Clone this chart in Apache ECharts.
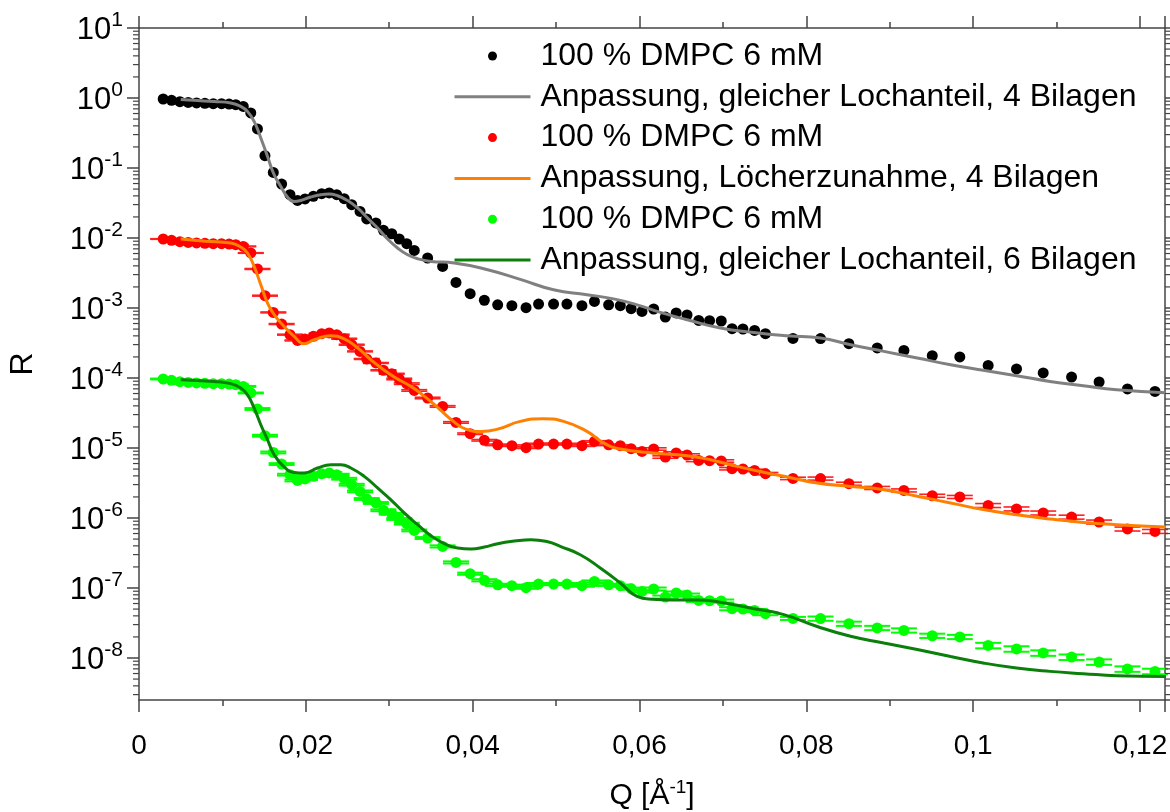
<!DOCTYPE html>
<html><head><meta charset="utf-8">
<script src="https://cdn.jsdelivr.net/npm/echarts@6/dist/echarts.min.js"></script>
<style>html,body{margin:0;padding:0;background:#fff}#c{width:1170px;height:812px}</style>
</head><body><div id="c"></div>
<script>
// Measured Q values [1/Å]
const q = [0.0029, 0.0039, 0.0049, 0.0059, 0.0069, 0.0079, 0.0089, 0.0099, 0.0108, 0.0116, 0.0125, 0.0134, 0.0142, 0.0151, 0.0161, 0.0171, 0.0181, 0.0190, 0.0199, 0.0209, 0.0219, 0.0228, 0.0237, 0.0246, 0.0255, 0.0265, 0.0273, 0.0284, 0.0293, 0.0303, 0.0312, 0.0321, 0.0330, 0.0346, 0.0364, 0.0380, 0.0397, 0.0414, 0.0430, 0.0447, 0.0464, 0.0479, 0.0497, 0.0513, 0.0531, 0.0546, 0.0563, 0.0577, 0.0590, 0.0603, 0.0617, 0.0631, 0.0644, 0.0657, 0.0671, 0.0684, 0.0698, 0.0711, 0.0724, 0.0738, 0.0751, 0.0784, 0.0817, 0.0851, 0.0885, 0.0917, 0.0951, 0.0984, 0.1018, 0.1052, 0.1084, 0.1118, 0.1151, 0.1185, 0.1218];
// Reflectivity, black (unscaled)
const rBlack = [0.968, 0.925, 0.885, 0.865, 0.849, 0.838, 0.830, 0.830, 0.820, 0.802, 0.759, 0.611, 0.361, 0.150, 0.0865, 0.0590, 0.0416, 0.0344, 0.0361, 0.0394, 0.0430, 0.0440, 0.0416, 0.0364, 0.0299, 0.0240, 0.0187, 0.0164, 0.0129, 0.0115, 0.00968, 0.00830, 0.00665, 0.00518, 0.00393, 0.00232, 0.00160, 0.00129, 0.00111, 0.00108, 0.00101, 0.00114, 0.00114, 0.00114, 0.00108, 0.00124, 0.00111, 0.00108, 0.000977, 0.000893, 0.000968, 0.000743, 0.000849, 0.000794, 0.000665, 0.000659, 0.000652, 0.000506, 0.000501, 0.000479, 0.000430, 0.000368, 0.000366, 0.000309, 0.000269, 0.000248, 0.000208, 0.000200, 0.000151, 0.000135, 0.000118, 0.000103, 8.77e-5, 6.97e-5, 6.44e-5];
// Red (offset x 1e-2)
const rRed = [9.68e-3, 9.25e-3, 8.85e-3, 8.65e-3, 8.49e-3, 8.38e-3, 8.30e-3, 8.30e-3, 8.20e-3, 8.02e-3, 7.59e-3, 6.11e-3, 3.61e-3, 1.50e-3, 8.65e-4, 5.90e-4, 4.16e-4, 3.44e-4, 3.61e-4, 3.94e-4, 4.30e-4, 4.40e-4, 4.16e-4, 3.64e-4, 2.99e-4, 2.40e-4, 1.87e-4, 1.64e-4, 1.29e-4, 1.15e-4, 9.68e-5, 8.30e-5, 6.65e-5, 5.18e-5, 3.93e-5, 2.32e-5, 1.60e-5, 1.29e-5, 1.11e-5, 1.08e-5, 1.01e-5, 1.14e-5, 1.14e-5, 1.14e-5, 1.08e-5, 1.24e-5, 1.11e-5, 1.08e-5, 9.77e-6, 8.93e-6, 9.68e-6, 7.43e-6, 8.49e-6, 7.94e-6, 6.65e-6, 6.59e-6, 6.52e-6, 5.06e-6, 5.01e-6, 4.79e-6, 4.30e-6, 3.68e-6, 3.66e-6, 3.09e-6, 2.69e-6, 2.48e-6, 2.08e-6, 2.00e-6, 1.51e-6, 1.35e-6, 1.18e-6, 1.03e-6, 8.77e-7, 6.97e-7, 6.44e-7];
// Green (offset x 1e-4)
const rGreen = [9.68e-5, 9.25e-5, 8.85e-5, 8.65e-5, 8.49e-5, 8.38e-5, 8.30e-5, 8.30e-5, 8.20e-5, 8.02e-5, 7.59e-5, 6.11e-5, 3.61e-5, 1.50e-5, 8.65e-6, 5.90e-6, 4.16e-6, 3.44e-6, 3.61e-6, 3.94e-6, 4.30e-6, 4.40e-6, 4.16e-6, 3.64e-6, 2.99e-6, 2.40e-6, 1.87e-6, 1.64e-6, 1.29e-6, 1.15e-6, 9.68e-7, 8.30e-7, 6.65e-7, 5.18e-7, 3.93e-7, 2.32e-7, 1.60e-7, 1.29e-7, 1.11e-7, 1.08e-7, 1.01e-7, 1.14e-7, 1.14e-7, 1.14e-7, 1.08e-7, 1.24e-7, 1.11e-7, 1.08e-7, 9.77e-8, 8.93e-8, 9.68e-8, 7.43e-8, 8.49e-8, 7.94e-8, 6.65e-8, 6.59e-8, 6.52e-8, 5.06e-8, 5.01e-8, 4.79e-8, 4.30e-8, 3.68e-8, 3.66e-8, 3.09e-8, 2.69e-8, 2.48e-8, 2.08e-8, 2.00e-8, 1.51e-8, 1.35e-8, 1.18e-8, 1.03e-8, 8.77e-9, 6.97e-9, 6.44e-9];
// Relative errors (fraction of R)
const errRed = [0.01, 0.01, 0.01, 0.01, 0.01, 0.01, 0.01, 0.01, 0.01, 0.01, 0.01, 0.01, 0.015, 0.015, 0.015, 0.015, 0.015, 0.015, 0.015, 0.015, 0.015, 0.015, 0.015, 0.015, 0.015, 0.015, 0.015, 0.015, 0.015, 0.015, 0.025, 0.025, 0.025, 0.025, 0.025, 0.025, 0.025, 0.025, 0.025, 0.025, 0.025, 0.025, 0.025, 0.025, 0.025, 0.025, 0.025, 0.025, 0.025, 0.025, 0.04, 0.04, 0.04, 0.04, 0.04, 0.04, 0.04, 0.04, 0.04, 0.04, 0.04, 0.04, 0.05, 0.05, 0.05, 0.05, 0.05, 0.05, 0.065, 0.065, 0.065, 0.065, 0.065, 0.065, 0.065];
const errGreen = [0.015, 0.015, 0.015, 0.015, 0.015, 0.015, 0.015, 0.015, 0.015, 0.015, 0.015, 0.015, 0.03, 0.03, 0.03, 0.03, 0.03, 0.03, 0.03, 0.03, 0.03, 0.03, 0.03, 0.03, 0.03, 0.03, 0.03, 0.03, 0.03, 0.03, 0.03, 0.03, 0.03, 0.03, 0.035, 0.035, 0.035, 0.035, 0.035, 0.035, 0.035, 0.035, 0.035, 0.035, 0.035, 0.035, 0.035, 0.035, 0.035, 0.035, 0.05, 0.05, 0.05, 0.05, 0.05, 0.05, 0.05, 0.05, 0.05, 0.05, 0.05, 0.05, 0.07, 0.07, 0.07, 0.07, 0.07, 0.07, 0.09, 0.09, 0.09, 0.09, 0.09, 0.09, 0.09];
// Fit: gleicher Lochanteil, 4 Bilagen (grey)
const qFitGrey = [0.0050, 0.0070, 0.0090, 0.0110, 0.0122, 0.0130, 0.0138, 0.0146, 0.0154, 0.0162, 0.0170, 0.0178, 0.0186, 0.0194, 0.0206, 0.0218, 0.0228, 0.0238, 0.0250, 0.0262, 0.0274, 0.0286, 0.0298, 0.0310, 0.0322, 0.0334, 0.0350, 0.0378, 0.0418, 0.0458, 0.0497, 0.0537, 0.0569, 0.0597, 0.0625, 0.0657, 0.0697, 0.0737, 0.0777, 0.0817, 0.0853, 0.0893, 0.0933, 0.0973, 0.1012, 0.1052, 0.1092, 0.1132, 0.1172, 0.1231];
const rFitGrey = [0.95, 0.92, 0.89, 0.849, 0.759, 0.644, 0.463, 0.269, 0.147, 0.0802, 0.0546, 0.0385, 0.0333, 0.0344, 0.0385, 0.0416, 0.0426, 0.0402, 0.0344, 0.0269, 0.0193, 0.0139, 0.00968, 0.00719, 0.00577, 0.00506, 0.00463, 0.00440, 0.00352, 0.00254, 0.00182, 0.00155, 0.00135, 0.00111, 0.000865, 0.000681, 0.000518, 0.000448, 0.000402, 0.000372, 0.000299, 0.000240, 0.000193, 0.000155, 0.000129, 0.000108, 8.93e-5, 7.76e-5, 6.81e-5, 6.17e-5];
// Fit: Löcherzunahme, 4 Bilagen (orange)
const qFitOrange = [0.0050, 0.0080, 0.0110, 0.0122, 0.0130, 0.0138, 0.0146, 0.0154, 0.0162, 0.0174, 0.0186, 0.0198, 0.0210, 0.0230, 0.0246, 0.0262, 0.0278, 0.0294, 0.0310, 0.0326, 0.0340, 0.0358, 0.0376, 0.0392, 0.0410, 0.0430, 0.0457, 0.0485, 0.0509, 0.0537, 0.0557, 0.0577, 0.0617, 0.0657, 0.0685, 0.0717, 0.0750, 0.0780, 0.0813, 0.0853, 0.0893, 0.0933, 0.0973, 0.1012, 0.1052, 0.1092, 0.1132, 0.1172, 0.1231];
const rFitOrange = [0.00968, 0.00902, 0.00849, 0.00743, 0.00611, 0.00393, 0.00215, 0.00118, 0.000802, 0.000546, 0.000393, 0.000309, 0.000352, 0.000402, 0.000361, 0.000269, 0.000182, 0.000129, 9.68e-5, 7.59e-5, 5.75e-5, 3.80e-5, 2.45e-5, 1.86e-5, 1.72e-5, 1.86e-5, 2.40e-5, 2.62e-5, 2.40e-5, 1.73e-5, 1.18e-5, 9.68e-6, 8.49e-6, 7.76e-6, 6.81e-6, 5.46e-6, 4.47e-6, 3.80e-6, 3.16e-6, 2.82e-6, 2.54e-6, 2.04e-6, 1.64e-6, 1.32e-6, 1.11e-6, 9.68e-7, 8.65e-7, 8.02e-7, 7.41e-7];
// Fit: gleicher Lochanteil, 6 Bilagen (dark green)
const qFitGreen = [0.0050, 0.0090, 0.0110, 0.0122, 0.0130, 0.0138, 0.0146, 0.0154, 0.0162, 0.0174, 0.0186, 0.0198, 0.0214, 0.0230, 0.0242, 0.0254, 0.0270, 0.0286, 0.0302, 0.0318, 0.0334, 0.0350, 0.0366, 0.0382, 0.0398, 0.0414, 0.0430, 0.0450, 0.0470, 0.0490, 0.0505, 0.0529, 0.0553, 0.0577, 0.0597, 0.0615, 0.0640, 0.0670, 0.0695, 0.0733, 0.0773, 0.0813, 0.0853, 0.0893, 0.0933, 0.0973, 0.1012, 0.1052, 0.1092, 0.1132, 0.1172, 0.1231];
const rFitGreen = [9.46e-5, 8.93e-5, 8.30e-5, 7.19e-5, 5.77e-5, 3.72e-5, 2.15e-5, 1.32e-5, 8.02e-6, 5.36e-6, 4.48e-6, 4.40e-6, 5.18e-6, 5.77e-6, 5.77e-6, 5.18e-6, 3.93e-6, 2.69e-6, 1.82e-6, 1.18e-6, 8.02e-7, 5.58e-7, 4.30e-7, 3.72e-7, 3.61e-7, 3.85e-7, 4.30e-7, 4.68e-7, 4.90e-7, 4.57e-7, 3.93e-7, 2.99e-7, 1.93e-7, 1.18e-7, 7.59e-8, 6.92e-8, 6.76e-8, 6.76e-8, 6.31e-8, 5.18e-8, 4.16e-8, 2.82e-8, 2.04e-8, 1.64e-8, 1.32e-8, 1.05e-8, 8.49e-9, 7.19e-9, 6.44e-9, 5.97e-9, 5.58e-9, 5.43e-9];

const legendLabels = ['100 % DMPC 6 mM', 'Anpassung, gleicher Lochanteil, 4 Bilagen', '100 % DMPC 6 mM', 'Anpassung, Löcherzunahme, 4 Bilagen', '100 % DMPC 6 mM', 'Anpassung, gleicher Lochanteil, 6 Bilagen'];
// unique internal names (trailing spaces, trimmed in legend)
const names = legendLabels.map((s, i) => s + ' '.repeat(i));

const xMin = 0, xMax = 0.123, xInterval = 0.02;
const yMin = 2.512e-9, yMax = 10;
// logarithmic minor tick values (2..9 per decade) inside the axis range
const yMinorTicks = [];
for (let e = -9; e <= 0; e++) for (let k = 2; k <= 9; k++) {
  const v = k * Math.pow(10, e);
  if (v > yMin && v < yMax) yMinorTicks.push(v);
}

const zip = (a, b) => a.map((v, i) => [v, b[i]]);
const zip3 = (a, b, c) => a.map((v, i) => [v, b[i], c[i]]);

const axisColor = '#444';
function errRender(color, capHalf, lw) {
  return function (params, api) {
    const x = api.value(0), y = api.value(1), e = api.value(2);
    const c = api.coord([x, y]);
    const hi = api.coord([x, y * (1 + e)]);
    const lo = api.coord([x, y * (1 - e)]);
    const st = { stroke: color, lineWidth: lw };
    return { type: 'group', children: [
      { type: 'line', shape: { x1: c[0], y1: hi[1], x2: c[0], y2: lo[1] }, style: st },
      { type: 'line', shape: { x1: c[0] - capHalf, y1: hi[1], x2: c[0] + capHalf, y2: hi[1] }, style: st },
      { type: 'line', shape: { x1: c[0] - capHalf, y1: lo[1], x2: c[0] + capHalf, y2: lo[1] }, style: st }
    ]};
  };
}
function minorTickRender(params, api) {
  const v = api.value(1);
  const pl = api.coord([xMin, v]);
  const pr = api.coord([xMax, v]);
  const st = { stroke: axisColor, lineWidth: 1.2 };
  return { type: 'group', children: [
    { type: 'line', shape: { x1: pl[0] - 6, y1: pl[1], x2: pl[0], y2: pl[1] }, style: st },
    { type: 'line', shape: { x1: pr[0], y1: pr[1], x2: pr[0] + 6, y2: pr[1] }, style: st }
  ]};
}

const chart = echarts.init(document.getElementById('c'), null, { renderer: 'canvas' });
const xCommon = {
  type: 'value', min: xMin, max: xMax, interval: xInterval,
  axisLine: { show: true, onZero: false, lineStyle: { color: axisColor, width: 1.5 } },
  axisTick: { show: true, inside: false, length: 12, lineStyle: { color: axisColor, width: 1.5 } },
  minorTick: { show: true, splitNumber: 2, length: 6, lineStyle: { color: axisColor, width: 1.5 } },
  splitLine: { show: false }
};
const yCommon = {
  type: 'log', logBase: 10, min: yMin, max: yMax, splitNumber: 10,
  axisLine: { show: true, onZero: false, lineStyle: { color: axisColor, width: 1.5 } },
  axisTick: { show: true, inside: false, length: 12, lineStyle: { color: axisColor, width: 1.5 } },
  minorTick: { show: false },
  splitLine: { show: false }
};
const noSymbol = { color: 'rgba(0,0,0,0)' };

chart.setOption({
  animation: false,
  backgroundColor: '#fff',
  grid: { left: 139, right: 5, top: 28, bottom: 112, outerBoundsMode: 'none', containLabel: false },
  legend: {
    orient: 'vertical', left: 448, top: 35,
    itemWidth: 76, itemHeight: 9, itemGap: 8.8,
    data: names,
    formatter: n => n.trim(),
    lineStyle: { width: 3 },
    textStyle: { fontFamily: 'Liberation Sans, Arial, sans-serif', fontSize: 32, color: '#000', padding: [0, 0, 0, 5] }
  },
  xAxis: [
    Object.assign({}, xCommon, {
      position: 'bottom',
      name: '{a|Q [Å}{s|-1}{a|]}', nameLocation: 'middle', nameGap: 78,
      nameTextStyle: { rich: {
        a: { fontFamily: 'Liberation Sans, Arial', fontSize: 30, color: '#000', verticalAlign: 'bottom' },
        s: { fontFamily: 'Liberation Sans, Arial', fontSize: 19, color: '#000', verticalAlign: 'bottom', padding: [0, 0, 14, 0] }
      } },
      axisLabel: { show: true, margin: 32, showMaxLabel: false, fontSize: 28, color: '#000',
        fontFamily: 'Liberation Sans, Arial',
        formatter: v => String(+v.toFixed(4)).replace('.', ',') }
    }),
    Object.assign({}, xCommon, { position: 'top', axisLabel: { show: false } })
  ],
  yAxis: [
    Object.assign({}, yCommon, {
      position: 'left',
      name: 'R', nameLocation: 'middle', nameGap: 100, nameRotate: 90,
      nameTextStyle: { fontFamily: 'Liberation Sans, Arial', fontSize: 32, color: '#000' },
      axisLabel: { show: true, margin: 16, showMinLabel: false, showMaxLabel: true,
        formatter: v => '{b|10}{s|' + Math.round(Math.log10(v)) + '}',
        rich: {
          b: { fontFamily: 'Liberation Sans, Arial', fontSize: 31, color: '#000', verticalAlign: 'bottom' },
          s: { fontFamily: 'Liberation Sans, Arial', fontSize: 21, color: '#000', verticalAlign: 'bottom', padding: [0, 0, 15, 0] }
        } }
    }),
    Object.assign({}, yCommon, { position: 'right', axisLabel: { show: false } })
  ],
  series: [
    { type: 'custom', name: 'yMinorTicks', data: yMinorTicks.map(v => [xMin, v]), renderItem: minorTickRender,
      encode: { x: 0, y: 1 }, clip: false, silent: true, z: 10 },
    { type: 'scatter', name: names[0], data: zip(q, rBlack), symbol: 'circle', symbolSize: 11,
      itemStyle: { color: '#000', opacity: 1 }, z: 3 },
    { type: 'custom', name: 'errRed', data: zip3(q, rRed, errRed), renderItem: errRender('#ff2020', 13, 1.6),
      encode: { x: 0, y: 1 }, z: 2, silent: true },
    { type: 'scatter', name: names[2], data: zip(q, rRed), symbol: 'circle', symbolSize: 11,
      itemStyle: { color: '#ff0000', opacity: 1 }, z: 3 },
    { type: 'custom', name: 'errGreen', data: zip3(q, rGreen, errGreen), renderItem: errRender('#00ff00', 13, 2),
      encode: { x: 0, y: 1 }, z: 2, silent: true },
    { type: 'scatter', name: names[4], data: zip(q, rGreen), symbol: 'circle', symbolSize: 11,
      itemStyle: { color: '#00ff00', opacity: 1 }, z: 3 },
    { type: 'line', name: names[1], data: zip(qFitGrey, rFitGrey), symbol: 'none', smooth: true,
      lineStyle: { color: '#808080', width: 3 }, itemStyle: noSymbol, z: 4 },
    { type: 'line', name: names[3], data: zip(qFitOrange, rFitOrange), symbol: 'none', smooth: true,
      lineStyle: { color: '#ff8000', width: 3 }, itemStyle: noSymbol, z: 4 },
    { type: 'line', name: names[5], data: zip(qFitGreen, rFitGreen), symbol: 'none', smooth: true,
      lineStyle: { color: '#0a7f0a', width: 3 }, itemStyle: noSymbol, z: 4 }
  ]
});
</script>
</body></html>
